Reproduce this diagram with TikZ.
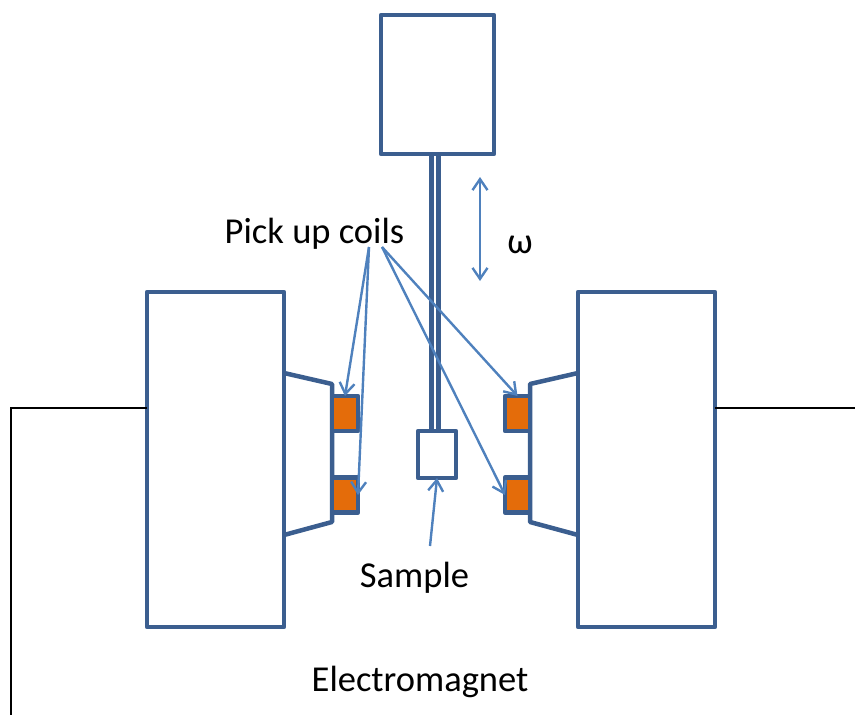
\documentclass[tikz,border=0pt]{standalone}
\usepackage{fontspec}
\setmainfont{Carlito}
\usetikzlibrary{arrows.meta}

\definecolor{framecol}{HTML}{3B5E8F}
\definecolor{coilcol}{HTML}{E46C0A}
\definecolor{pointercol}{HTML}{4F81BD}

\begin{document}
\begin{tikzpicture}[x=1pt,y=-1pt,
    frame/.style={draw=framecol,line width=4.5pt,line join=round},
    block/.style={frame,fill=white,outer sep=0pt,inner sep=0pt},
    coil/.style={frame,fill=coilcol,outer sep=0pt,inner sep=0pt,minimum height=35pt},
    pointer/.style={draw=pointercol,line width=2.4pt,-{Straight Barb[length=11pt,width=15pt,line width=2.4pt]}},
    wire/.style={draw=black,line width=2pt},
    label/.style={inner sep=0pt,font=\fontsize{36.5}{40}\selectfont}]
      \useasboundingbox (0,0) rectangle (855,715);

      \coordinate (wirelend) at (11,715);
      \coordinate (wirelbend) at (11,408);
      \coordinate (wirerend) at (855,408);
      \coordinate (polelt) at (284,373);
      \coordinate (polelb) at (284,535);
      \coordinate (polelti) at (332,384);
      \coordinate (polelbi) at (332,522);
      \coordinate (polert) at (578,373);
      \coordinate (polerb) at (578,535);
      \coordinate (polerti) at (530,384);
      \coordinate (polerbi) at (530,522);
      \coordinate (pickleft) at (369,247);
      \coordinate (pickright) at (382,247);
      \coordinate (sampletail) at (430,546);
      \coordinate (omegatop) at (480,177);
      \coordinate (omegabot) at (480,281);

      \node[block,minimum width=113pt,minimum height=139pt](head) at (437.5,84.5){};
      \node[block,minimum width=38pt,minimum height=47pt](sample) at (437,454.5){};
      \node[block,minimum width=137pt,minimum height=335pt](magl) at (215.5,459.5){};
      \node[block,minimum width=137pt,minimum height=335pt](magr) at (646.5,459.5){};

      \draw[wire] (magl.west |- wirelbend) -- (wirelbend) -- (wirelend);
      \draw[wire] (magr.east |- wirerend) -- (wirerend);

      \draw[frame] (polelt) -- (polelti) -- (polelbi) -- (polelb);
      \draw[frame] (polert) -- (polerti) -- (polerbi) -- (polerb);

      \draw[frame] ([xshift=-6pt]head.south) -- ([xshift=-5.5pt]sample.north);
      \draw[frame] ([xshift=1pt]head.south) -- ([xshift=1.5pt]sample.north);

      \node[coil,minimum width=26pt](coillt) at (345,413.5){};
      \node[coil,minimum width=26pt](coillb) at (345,495){};
      \node[coil,minimum width=25pt](coilrt) at (517.5,413.5){};
      \node[coil,minimum width=25pt](coilrb) at (517.5,495){};

      \node[label](pickup) at (314.5,233.5){Pick up coils};
      \node[label](samplelabel) at (414.5,578){Sample};
      \node[label](magnetlabel) at (420,682){Electromagnet};
      \node[label](omega) at (520,245){ω};

      \draw[pointer] (pickleft) -- (coillt.north);
      \draw[pointer] (pickleft) -- (coillb.east);
      \draw[pointer] (pickright) -- (coilrt.north);
      \draw[pointer] (pickright) -- (coilrb.west);
      \draw[pointer] (sampletail) -- (sample.south);
      \draw[pointer,{Straight Barb[length=11pt,width=15pt,line width=2.4pt]}-{Straight Barb[length=11pt,width=15pt,line width=2.4pt]}] (omegatop) -- (omegabot);
    \end{tikzpicture}
\end{document}
